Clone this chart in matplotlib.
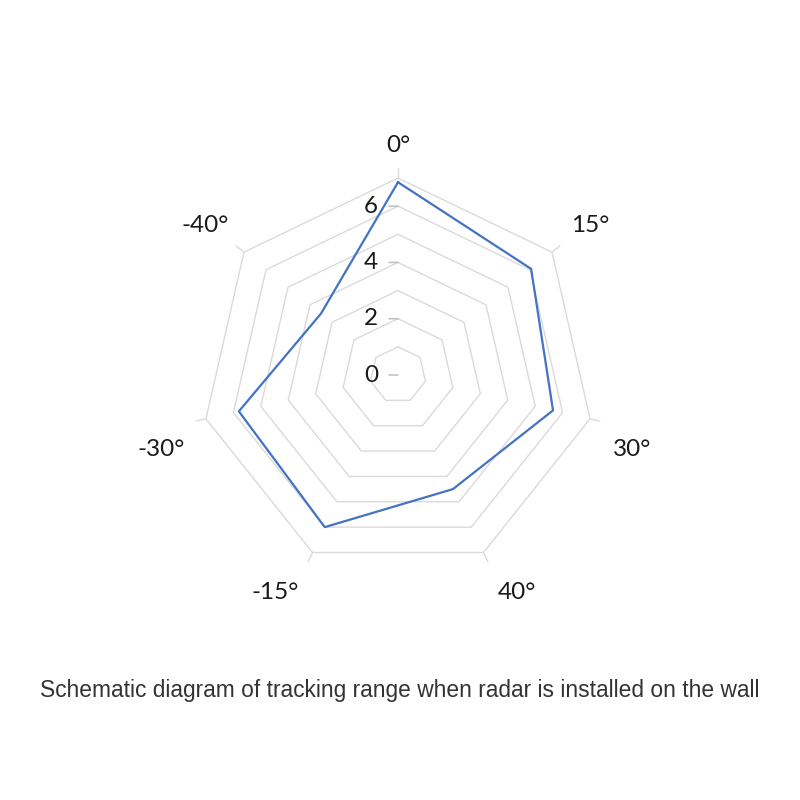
import numpy as np
import matplotlib
matplotlib.use("Agg")
import matplotlib.pyplot as plt

categories = ["0°", "15°", "30°", "40°", "-15°", "-30°", "-40°"]
values = [6.85, 6.05, 5.65, 4.5, 6.0, 5.8, 3.5]
rings = [1, 2, 3, 4, 5, 6, 7]
tick_labels = [0, 2, 4, 6]
caption = "Schematic diagram of tracking range when radar is installed on the wall"

# label offsets from the outer vertex, in pixels (x right, y up)
label_offsets_px = [(0, 33), (38, 27), (42, -31), (33.5, -40.5),
                    (-37.5, -40.5), (-45, -31), (-39, 27)]

fig = plt.figure(figsize=(8, 8), dpi=100)
fig.patch.set_facecolor("white")

cx, cy, rad = 398, 375, 197
ax = fig.add_axes([(cx - rad) / 800, (800 - cy - rad) / 800, 2 * rad / 800, 2 * rad / 800],
                  projection="polar")
ax.set_theta_zero_location("N")
ax.set_theta_direction(-1)
ax.set_ylim(0, 7)
ax.axis("off")

n = len(categories)
theta = np.arange(n) * 2 * np.pi / n
theta_closed = np.append(theta, theta[0])

grid_color = "#dadada"
for r in rings:
    ax.plot(theta_closed, [r] * (n + 1), color=grid_color, lw=1.0, zorder=1)

# spoke tick marks outside the outer ring
for t in theta:
    ax.plot([t, t], [7, 7.35], color=grid_color, lw=1.0, clip_on=False, zorder=1)

# value axis ticks and labels
for v in tick_labels:
    ax.annotate("", xy=(0, v), xytext=(-6.5, 0), textcoords="offset points",
                arrowprops=dict(arrowstyle="-", color="#bfbfbf", lw=1.1,
                                shrinkA=0, shrinkB=0))
    ax.annotate(str(v), xy=(0, v), xytext=(-19.5, 0), textcoords="offset points",
                ha="center", va="center", fontsize=17.5, family="Lato", color="#1a1a1a")

# category labels
pt = 72 / 100
for t, lab, (dx, dy) in zip(theta, categories, label_offsets_px):
    ax.annotate(lab, xy=(t, rings[-1]), xytext=(dx * pt, dy * pt),
                textcoords="offset points", ha="center", va="center",
                fontsize=17.5, family="Lato", color="#1a1a1a", annotation_clip=False)

vals_closed = values + [values[0]]
ax.plot(theta_closed, vals_closed, color="#4472c4", lw=1.6, zorder=3, clip_on=False)

fig.text(400 / 800, 1 - 690 / 800, caption, ha="center", va="center",
         fontsize=16.4, family="Liberation Sans", color="#333333")

fig.savefig("out.png", dpi=100, facecolor="white")
